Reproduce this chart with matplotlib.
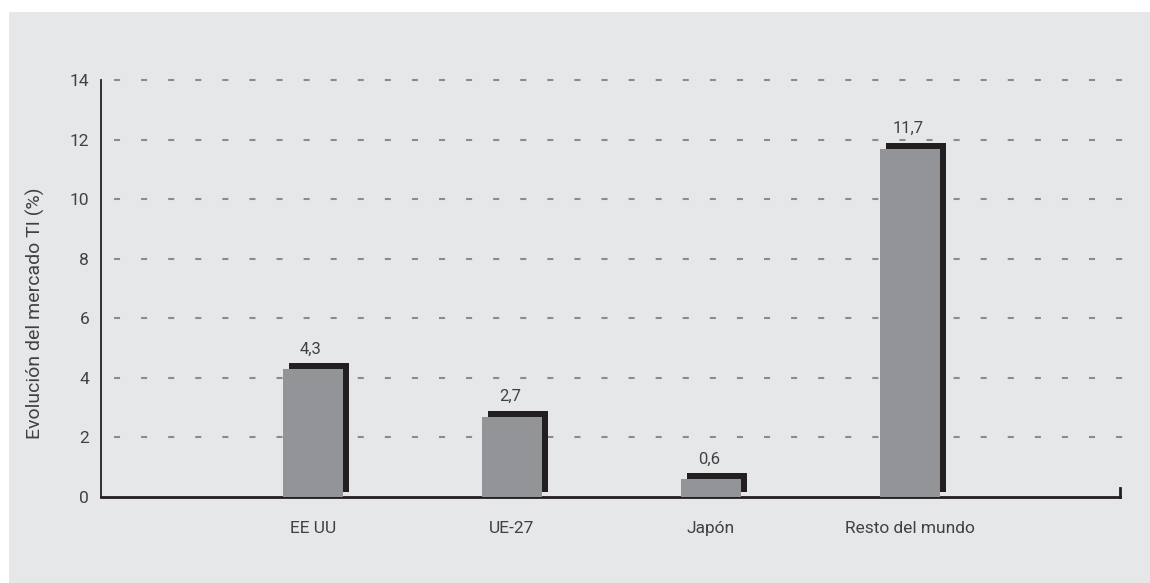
import numpy as np
import matplotlib.pyplot as plt
from matplotlib.patches import Rectangle

plt.rcParams['font.family'] = ['Roboto', 'DejaVu Sans']

regiones = ['EE UU', 'UE-27', 'Japón', 'Resto del mundo']
evolucion = [4.3, 2.7, 0.6, 11.7]
etiquetas = ['4,3', '2,7', '0,6', '11,7']
yticks = [0, 2, 4, 6, 8, 10, 12, 14]

W, H = 1150, 583
fig = plt.figure(figsize=(W / 100, H / 100), dpi=100)
fig.patch.set_facecolor('white')
# grey panel behind the chart
fig.patches.append(Rectangle((9 / W, 0), 1 - 9 / W, 1 - 12 / H,
                             transform=fig.transFigure, facecolor='#e6e7e9',
                             edgecolor='none', zorder=-10))

x0, x1 = 101, 1120
y0, y1 = 497, 80
ax = fig.add_axes([x0 / W, 1 - y0 / H, (x1 - x0) / W, (y0 - y1) / H])
ax.patch.set_alpha(0)
ax.set_xlim(-0.065, 5.055)
ax.set_ylim(0, 14)

txt = '#414141'
x = np.arange(1, len(regiones) + 1)
w = 0.30
dx = 6 / 199.0      # shadow shift in data units
dy = 0.2
gap = 5 / 29.8
for xi, v, lab in zip(x, evolucion, etiquetas):
    ax.bar(xi + dx, v + dy - gap, bottom=gap, width=w, color='#231f20', zorder=3)
    ax.bar(xi, v, width=w, color='#929497', zorder=4)
    ax.text(xi - 0.01, v + dy + 0.22, lab, ha='center', va='bottom',
            fontsize=12, color=txt)

# dashed gridlines
for yv in yticks[1:]:
    ax.plot([0.0, 5.08], [yv, yv], color='#8a8b8d', lw=1.5,
            dashes=(2.9, 10.1), zorder=1, clip_on=False)

for s in ['top', 'right']:
    ax.spines[s].set_visible(False)
ax.spines['left'].set_linewidth(1.3)
ax.spines['left'].set_color('#231f20')
ax.spines['bottom'].set_linewidth(2)
ax.spines['bottom'].set_color('#231f20')
# small tick at the right end of the axis
ax.plot([5.055, 5.055], [0, 0.3], color='#231f20', lw=2, clip_on=False, zorder=5)

ax.set_yticks(yticks)
ax.set_yticklabels([str(t) for t in yticks], fontsize=12.5, color=txt)
ax.tick_params(axis='y', length=0, pad=8.5)
ax.set_xticks(x)
ax.set_xticklabels(regiones, fontsize=12.5, color=txt)
ax.tick_params(axis='x', length=0, pad=17)
ax.set_ylabel('Evolución del mercado TI (%)', fontsize=14, color=txt)
ax.yaxis.set_label_coords(-0.055, 0.44)

plt.savefig('out.png', dpi=100, facecolor=fig.get_facecolor())
